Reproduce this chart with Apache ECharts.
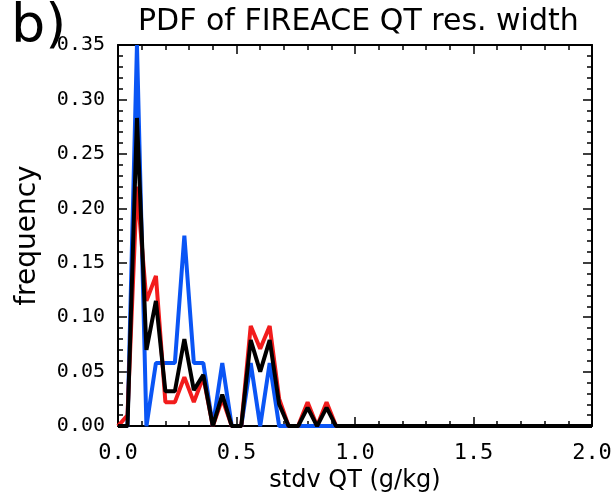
<!DOCTYPE html>
<html><head><meta charset="utf-8">
<script src="https://cdn.jsdelivr.net/npm/echarts@6/dist/echarts.min.js"></script>
<style>html,body{margin:0;padding:0;background:#fff}#c{width:615px;height:498px}</style>
</head><body><div id="c"></div>
<script>
// bin positions (stdv QT, g/kg)
const xs = [0, 0.04, 0.08, 0.12, 0.16, 0.20, 0.24, 0.28, 0.32, 0.36, 0.40, 0.44, 0.48, 0.52, 0.56, 0.60, 0.64, 0.68, 0.72, 0.76, 0.80, 0.84, 0.88, 0.92, 0.96, 2.0];
// frequencies
const blueVals  = [0, 0, 0.35, 0, 0.058, 0.058, 0.058, 0.175, 0.058, 0.058, 0, 0.058, 0, 0, 0.058, 0, 0.058, 0, 0, 0, 0, 0, 0, 0, 0, 0];
const redVals   = [0, 0.01, 0.22, 0.115, 0.138, 0.022, 0.022, 0.045, 0.022, 0.045, 0, 0.025, 0, 0, 0.092, 0.071, 0.092, 0.025, 0, 0, 0.022, 0, 0.022, 0, 0, 0];
const blackVals = [0, 0, 0.283, 0.07, 0.115, 0.032, 0.032, 0.08, 0.033, 0.047, 0, 0.029, 0, 0, 0.079, 0.05, 0.079, 0.02, 0, 0, 0.017, 0, 0.017, 0, 0, 0];

const titleText = 'PDF of FIREACE QT res. width';
const panelLabel = 'b)';
const xName = 'stdv QT (g/kg)';
const yName = 'frequency';

const FONT = 'DejaVu Sans';
const MONO = 'DejaVu Sans Mono';
const pair = v => xs.map((x, i) => [x, v[i]]);

function axisCommon(extra) {
  return Object.assign({
    type: 'value',
    axisLine: {show: true, onZero: false, lineStyle: {color: '#000', width: 2}},
    axisTick: {show: true, inside: true, length: 9, lineStyle: {color: '#000', width: 1.5}},
    minorTick: {show: true, splitNumber: 5, length: 5, lineStyle: {color: '#000', width: 1.5}},
    splitLine: {show: false},
    minorSplitLine: {show: false}
  }, extra);
}

const chart = echarts.init(document.getElementById('c'), null, {renderer: 'canvas'});
chart.setOption({
  animation: false,
  backgroundColor: '#fff',
  title: [
    {text: panelLabel, left: 6, top: -4, textStyle: {fontSize: 54, fontWeight: 'normal', color: '#000', fontFamily: FONT}},
    {text: titleText, left: 133, top: 2, textStyle: {fontSize: 30, fontWeight: 'normal', color: '#000', fontFamily: FONT}}
  ],
  grid: {left: 118, right: 23, top: 45, bottom: 58, containLabel: false},
  xAxis: [
    axisCommon({min: 0, max: 2, interval: 0.5, position: 'bottom',
      axisLabel: {formatter: v => v.toFixed(1), fontSize: 22, color: '#000', margin: 16, fontFamily: MONO},
      name: xName, nameLocation: 'middle', nameGap: 42,
      nameTextStyle: {fontSize: 24, color: '#000', fontFamily: FONT}}),
    axisCommon({min: 0, max: 2, interval: 0.5, position: 'top', axisLabel: {show: false}})
  ],
  yAxis: [
    axisCommon({min: 0, max: 0.35, interval: 0.05, position: 'left',
      axisLabel: {formatter: v => v.toFixed(2), fontSize: 20, color: '#000', margin: 13, fontFamily: MONO},
      name: yName, nameLocation: 'middle', nameGap: 76,
      nameTextStyle: {fontSize: 28, color: '#000', fontFamily: FONT}}),
    axisCommon({min: 0, max: 0.35, interval: 0.05, position: 'right', axisLabel: {show: false}})
  ],
  series: [
    {type: 'line', data: pair(blueVals), showSymbol: false, lineStyle: {color: '#0a55f5', width: 4}, z: 2},
    {type: 'line', data: pair(redVals), showSymbol: false, lineStyle: {color: '#f21c1c', width: 4}, z: 3},
    {type: 'line', data: pair(blackVals), showSymbol: false, lineStyle: {color: '#000', width: 4}, z: 4}
  ]
});
</script></body></html>
